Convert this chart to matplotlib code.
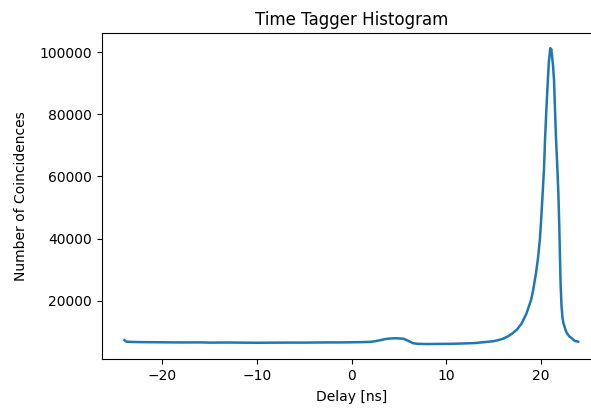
import numpy as np
import matplotlib.pyplot as plt

# delay [ns] and coincidence counts of the histogram
delay = [-24.0, -23.8, -23.0, -22.0, -20.0, -18.0, -16.0, -15.0, -13.0, -11.0,
         -10.0, -8.0, -6.0, -5.0, -3.0, -1.0, 0.0, 1.0, 2.0, 2.5,
         3.0, 3.5, 4.0, 4.5, 5.0, 5.5, 6.0, 6.5, 7.0, 8.0,
         9.0, 10.0, 11.0, 12.0, 13.0, 14.0, 14.5, 15.0, 15.5, 16.0,
         16.5, 17.0, 17.5, 18.0, 18.5, 19.0, 19.2, 19.5, 19.7, 19.9,
         20.05, 20.2, 20.35, 20.45, 20.6, 20.75, 20.85, 20.95, 21.0, 21.05,
         21.1, 21.15, 21.2, 21.3, 21.4, 21.5, 21.6, 21.75, 21.86, 21.95,
         22.03, 22.1, 22.2, 22.3, 22.4, 22.6, 22.75, 23.0, 23.3, 23.6, 23.95]
counts = [7300, 6850, 6750, 6700, 6650, 6600, 6620, 6550, 6580, 6520,
          6500, 6540, 6560, 6550, 6600, 6620, 6650, 6700, 6800, 7000,
          7300, 7650, 7850, 7950, 7900, 7800, 7100, 6350, 6150, 6100,
          6120, 6150, 6200, 6300, 6400, 6700, 6850, 7000, 7350, 7800,
          8500, 9500, 10800, 12800, 16000, 20500, 23500, 29000, 33500, 39500,
          46500, 54600, 63000, 71700, 82000, 91000, 96500, 99500, 101200, 100300,
          101000, 99800, 98500, 95500, 91000, 82000, 73000, 63000, 54600, 45000,
          34000, 25000, 18000, 14500, 12800, 10800, 9650, 8600, 7900, 7100, 6850]

fig = plt.figure(figsize=(5.91, 4.08), dpi=100)
ax = fig.add_axes([0.1723, 0.1206, 0.8443, 0.7973])

ax.plot(delay, counts, color='#1f77b4', lw=1.8)

ax.set_xticks([-20, -10, 0, 10, 20])
ax.set_yticks([20000, 40000, 60000, 80000, 100000])
ax.set_xlabel("Delay [ns]", labelpad=5.5)
ax.set_ylabel("Number of Coincidences", labelpad=8)
ax.set_title("Time Tagger Histogram")

fig.savefig("out.png", dpi=100)
